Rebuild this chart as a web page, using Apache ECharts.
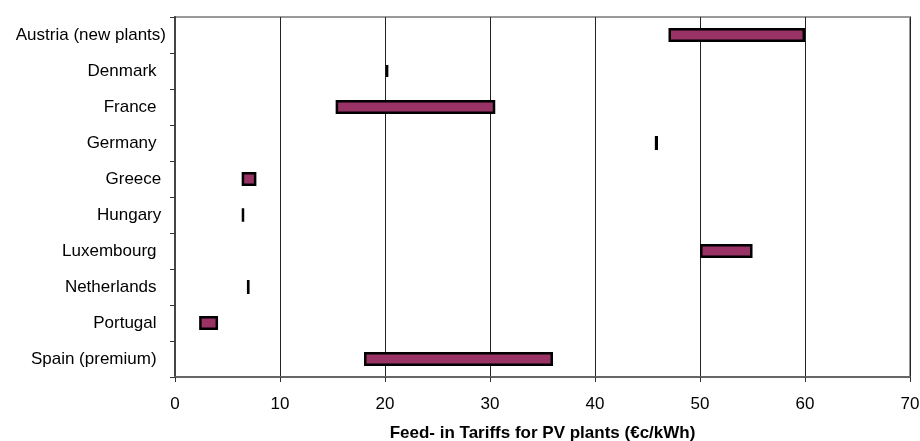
<!DOCTYPE html>
<html>
<head>
<meta charset="utf-8">
<title>Feed-in Tariffs for PV plants</title>
<script src="https://cdn.jsdelivr.net/npm/echarts@6/dist/echarts.min.js"></script>
<style>
  html, body { margin: 0; padding: 0; background: #fff; }
  #chart { width: 920px; height: 441px; }
</style>
</head>
<body>
<div id="chart"></div>
<script>
// Countries (top to bottom); trailing spaces keep the original label alignment
const countries = [
  'Austria (new plants)', 'Denmark  ', 'France  ', 'Germany  ', 'Greece ',
  'Hungary ', 'Luxembourg  ', 'Netherlands  ', 'Portugal  ', 'Spain (premium)  '
];
// Lowest and highest tariff per country, in €c/kWh
const tariffLow  = [47, 20.1, 15.3, 45.7, 6.35, 6.45, 50, 6.85, 2.3, 18];
const tariffHigh = [60, 20.3, 30.5, 46.0, 7.75, 6.5, 55, 7.1, 4.1, 36];
// Value axis ticks
const axisMin = 0, axisMax = 70, axisStep = 10;

const tariffSpan = tariffHigh.map((h, i) => +(h - tariffLow[i]).toFixed(3));

const chart = echarts.init(document.getElementById('chart'));
const font = 'Liberation Sans, Arial, sans-serif';

chart.setOption({
  animation: false,
  backgroundColor: '#fff',
  grid: {
    left: 175, right: 10, top: 17, bottom: 64,
    outerBoundsMode: 'none',
    containLabel: false,
    show: true, borderColor: '#999', borderWidth: 2
  },
  xAxis: {
    type: 'value',
    min: axisMin, max: axisMax, interval: axisStep,
    name: 'Feed- in Tariffs for PV plants (€c/kWh)',
    nameLocation: 'middle',
    nameGap: 47.5,
    nameTextStyle: { fontFamily: font, fontSize: 17, fontWeight: 'bold', color: '#000' },
    axisLine: { show: true, lineStyle: { color: '#666', width: 2 } },
    axisTick: { show: true, length: 5, lineStyle: { color: '#333' } },
    axisLabel: { fontFamily: font, fontSize: 17, color: '#000', margin: 19 },
    splitLine: { show: true, lineStyle: { color: '#222', width: 1 } }
  },
  yAxis: {
    type: 'category',
    data: countries,
    inverse: true,
    axisLine: { show: true, lineStyle: { color: '#444', width: 2 } },
    axisTick: { show: true, length: 5, lineStyle: { color: '#333' } },
    axisLabel: { fontFamily: font, fontSize: 17, color: '#000', margin: 9 },
    splitLine: { show: false }
  },
  series: [
    {
      type: 'bar',
      stack: 'range',
      data: tariffLow,
      barWidth: 14,
      silent: true,
      itemStyle: { color: 'transparent', borderWidth: 0 }
    },
    {
      type: 'bar',
      stack: 'range',
      data: tariffSpan,
      barWidth: 14,
      itemStyle: { color: '#993366', borderColor: '#000', borderWidth: 2.5 }
    }
  ]
});
</script>
</body>
</html>
